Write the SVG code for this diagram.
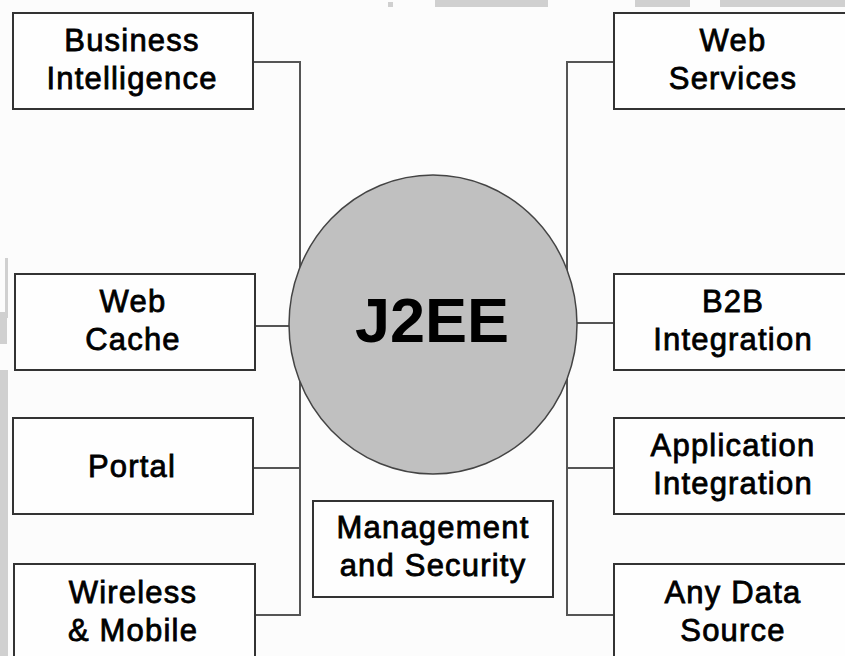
<svg xmlns="http://www.w3.org/2000/svg" width="845" height="656" viewBox="0 0 845 656">
<style>
.box{fill:#fefefe;stroke:#333;stroke-width:2}
.t{font-family:"Liberation Sans",Arial,sans-serif;font-size:31px;letter-spacing:1.2px;fill:#000;stroke:#000;stroke-width:0.8;text-anchor:middle}
.c{fill:none;stroke:#555;stroke-width:2}
.art{fill:#d0d0d0}
</style>
<rect x="0" y="0" width="845" height="656" fill="#fcfcfc"/>
<g id="artifacts">
<rect class="art" x="435" y="0" width="113" height="7"/>
<rect class="art" x="388" y="2" width="5" height="5"/>
<rect class="art" x="635" y="0" width="55" height="7"/>
<rect class="art" x="720" y="0" width="125" height="7"/>
<rect class="art" x="5" y="258" width="3" height="60"/>
<rect class="art" x="0" y="312" width="7" height="32"/>
<rect class="art" x="0" y="370" width="8" height="286"/>
</g>
<g id="connectors">
<polyline class="c" points="253,62 300,62 300,615 255,615"/>
<line class="c" x1="300" y1="468" x2="253" y2="468"/>
<line class="c" x1="255" y1="326" x2="300" y2="326"/>
<polyline class="c" points="614,62 567,62 567,615 614,615"/>
<line class="c" x1="567" y1="468" x2="614" y2="468"/>
<line class="c" x1="577" y1="323" x2="614" y2="323"/>
</g>
<g id="j2ee">
<ellipse cx="433" cy="324.5" rx="144" ry="149.5" fill="#c0c0c0" stroke="#444" stroke-width="1.5"/>
<text x="432" y="342" font-family="'Liberation Sans',Arial,sans-serif" font-size="63" font-weight="bold" text-anchor="middle" fill="#000">J2EE</text>
</g>
<g id="business-intelligence">
<rect class="box" x="13" y="13" width="240" height="96"/>
<text class="t" x="132" y="51">Business</text>
<text class="t" x="132" y="89">Intelligence</text>
</g>
<g id="web-cache">
<rect class="box" x="15" y="274" width="240" height="96"/>
<text class="t" x="133" y="312">Web</text>
<text class="t" x="133" y="350">Cache</text>
</g>
<g id="portal">
<rect class="box" x="13" y="418" width="240" height="96"/>
<text class="t" x="132" y="477">Portal</text>
</g>
<g id="wireless-mobile">
<rect class="box" x="14" y="564" width="241" height="100"/>
<text class="t" x="133" y="603">Wireless</text>
<text class="t" x="133" y="641">&amp; Mobile</text>
</g>
<g id="management-security">
<rect class="box" x="313" y="501" width="240" height="96"/>
<text class="t" x="433" y="538">Management</text>
<text class="t" x="433" y="576">and Security</text>
</g>
<g id="web-services">
<rect class="box" x="614" y="13" width="240" height="96"/>
<text class="t" x="733" y="51">Web</text>
<text class="t" x="733" y="89">Services</text>
</g>
<g id="b2b-integration">
<rect class="box" x="614" y="274" width="240" height="96"/>
<text class="t" x="733" y="312">B2B</text>
<text class="t" x="733" y="350">Integration</text>
</g>
<g id="application-integration">
<rect class="box" x="614" y="418" width="240" height="96"/>
<text class="t" x="733" y="456">Application</text>
<text class="t" x="733" y="494">Integration</text>
</g>
<g id="any-data-source">
<rect class="box" x="614" y="564" width="240" height="100"/>
<text class="t" x="733" y="603">Any Data</text>
<text class="t" x="733" y="641">Source</text>
</g>
</svg>
